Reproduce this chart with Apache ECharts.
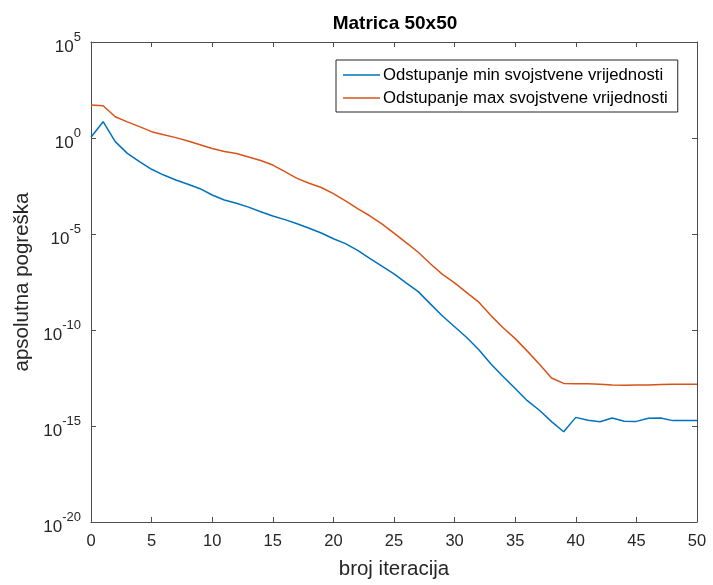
<!DOCTYPE html>
<html>
<head>
<meta charset="utf-8">
<script src="https://cdn.jsdelivr.net/npm/echarts@6/dist/echarts.min.js"></script>
<style>
html,body{margin:0;padding:0;background:#fff;}
#chart{width:713px;height:585px;}
</style>
</head>
<body>
<div id="chart"></div>
<script>
// iteration numbers
const iterations = [0,1,2,3,4,5,6,7,8,9,10,11,12,13,14,15,16,17,18,19,20,21,22,23,24,25,26,27,28,29,30,31,32,33,34,35,36,37,38,39,40,41,42,43,44,45,46,47,48,49,50];
// log10 of absolute error
const minDevExp = [0.04,0.85,-0.19,-0.80,-1.23,-1.63,-1.93,-2.19,-2.41,-2.64,-2.97,-3.23,-3.40,-3.60,-3.84,-4.06,-4.25,-4.47,-4.70,-4.95,-5.25,-5.50,-5.85,-6.27,-6.67,-7.08,-7.55,-8.00,-8.64,-9.27,-9.83,-10.39,-11.03,-11.77,-12.42,-13.05,-13.68,-14.18,-14.77,-15.30,-14.55,-14.70,-14.78,-14.58,-14.75,-14.76,-14.60,-14.58,-14.72,-14.72,-14.72];
const maxDevExp = [1.72,1.68,1.11,0.84,0.59,0.33,0.17,0.02,-0.16,-0.35,-0.55,-0.70,-0.81,-0.99,-1.17,-1.41,-1.75,-2.10,-2.36,-2.58,-2.90,-3.27,-3.68,-4.05,-4.47,-4.95,-5.45,-5.95,-6.55,-7.10,-7.55,-8.05,-8.55,-9.25,-9.88,-10.45,-11.10,-11.78,-12.50,-12.78,-12.80,-12.80,-12.82,-12.86,-12.88,-12.86,-12.86,-12.84,-12.82,-12.82,-12.82];
const seriesNames = ['Odstupanje min svojstvene vrijednosti','Odstupanje max svojstvene vrijednosti'];
const xTicks = [0,5,10,15,20,25,30,35,40,45,50];
const yTickExps = [-20,-15,-10,-5,0,5];

const toPoints = exps => iterations.map((it,i) => [it, Math.pow(10, exps[i])]);

const font = 'Liberation Sans, Arial, Helvetica, sans-serif';
const axisColor = '#4d4d4d';
const textColor = '#262626';

const chart = echarts.init(document.getElementById('chart'), null, {renderer:'canvas'});
const option = {
  backgroundColor:'#fff',
  animation:false,
  title:{
    text:'Matrica 50x50',
    left:390, top:9, textAlign:'center',
    textStyle:{fontFamily:font,fontSize:19,fontWeight:'bold',color:'#000'}
  },
  legend:{
    left:336, top:60,
    orient:'vertical',
    backgroundColor:'#fff',
    borderColor:'#262626', borderWidth:1,
    padding:[6,10,5,7],
    icon:'rect',
    itemWidth:37, itemHeight:1.5, itemGap:5,
    textStyle:{fontFamily:font,fontSize:16.7,color:'#000',lineHeight:18,padding:[0,0,0,-2]},
    data:seriesNames
  },
  grid:{left:91,right:16,top:42,bottom:63,containLabel:false},
  xAxis:[{
    type:'value', min:0, max:50, interval:5,
    name:'broj iteracija', nameLocation:'middle', nameGap:37,
    nameTextStyle:{fontFamily:font,fontSize:20.5,color:textColor},
    axisLine:{show:true,lineStyle:{color:axisColor,width:1}},
    axisTick:{show:true,inside:true,length:5,lineStyle:{color:axisColor}},
    axisLabel:{fontFamily:font,fontSize:16.5,color:textColor,margin:11,
      formatter:v => xTicks.includes(v) ? String(v) : ''},
    splitLine:{show:false}
  },{
    type:'value', min:0, max:50, interval:5, position:'top',
    axisLine:{show:true,onZero:false,lineStyle:{color:axisColor,width:1}},
    axisTick:{show:true,inside:true,length:5,lineStyle:{color:axisColor}},
    axisLabel:{show:false}, splitLine:{show:false}
  }],
  yAxis:[{
    type:'log', logBase:10, min:1e-20, max:1e5, interval:5,
    name:'apsolutna pogreška', nameLocation:'middle', nameGap:57,
    nameTextStyle:{fontFamily:font,fontSize:20.5,color:textColor},
    axisLine:{show:true,lineStyle:{color:axisColor,width:1}},
    axisTick:{show:true,inside:true,length:5,lineStyle:{color:axisColor}},
    minorTick:{show:false},
    axisLabel:{margin:10,
      formatter:v => {
        const e = Math.round(Math.log10(v));
        return yTickExps.includes(e) ? '{b|10}{s|' + e + '}' : '';
      },
      rich:{
        b:{fontFamily:font,fontSize:17,color:textColor,padding:[10,0,0,0]},
        s:{fontFamily:font,fontSize:13,color:textColor,padding:[0,0,10,0]}
      }
    },
    splitLine:{show:false}
  },{
    type:'log', logBase:10, min:1e-20, max:1e5, interval:5, position:'right',
    axisLine:{show:true,onZero:false,lineStyle:{color:axisColor,width:1}},
    axisTick:{show:true,inside:true,length:5,lineStyle:{color:axisColor}},
    axisLabel:{show:false}, splitLine:{show:false}
  }],
  series:[{
    name:seriesNames[0], type:'line', xAxisIndex:0, yAxisIndex:0,
    data:toPoints(minDevExp), symbol:'none', showSymbol:false,
    lineStyle:{color:'#0072BD',width:1.5}, itemStyle:{color:'#0072BD'}
  },{
    name:seriesNames[1], type:'line', xAxisIndex:0, yAxisIndex:0,
    data:toPoints(maxDevExp), symbol:'none', showSymbol:false,
    lineStyle:{color:'#D95319',width:1.5}, itemStyle:{color:'#D95319'}
  }]
};
chart.setOption(option);
</script>
</body>
</html>
